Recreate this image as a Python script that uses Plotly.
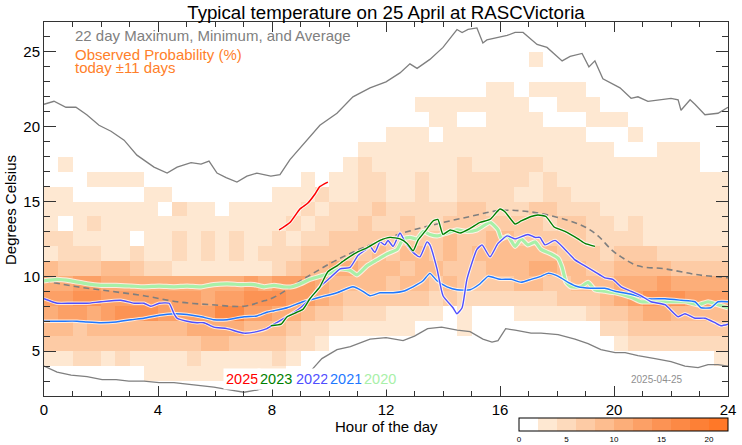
import plotly.graph_objects as go

# ---------------- data ----------------
# 22-day maximum / minimum / average (hour, deg C)
max_hours = [0, 0.35, 0.77, 1.12, 1.5, 1.93, 2.35, 2.81, 3.26, 3.86, 4.32, 4.67, 5.16, 5.51, 5.79, 6.07, 6.39, 6.77,
             7.12, 7.47, 7.96, 8.28, 8.63, 9.23, 9.68, 10.28, 10.84, 11.44, 12.0, 12.49, 12.84, 13.09, 13.54, 14.0,
             14.49, 14.67, 14.88, 15.19, 15.4, 15.54, 15.75, 16.25, 16.53, 16.81, 17.3, 17.65, 18.18, 18.46, 18.88,
             19.12, 19.33, 19.61, 20.21, 20.6, 20.84, 21.19, 22.0, 22.25, 22.35, 22.67, 22.84, 23.19, 23.65, 24]
max_temp = [21.5, 21.7, 21.3, 21.3, 20.8, 20.1, 19.7, 19.1, 18.1, 17.3, 16.9, 17.3, 17.6, 17.5, 17.7, 16.9, 16.6, 16.3,
            16.7, 16.9, 16.7, 16.8, 17.8, 19.1, 20.1, 20.9, 22.0, 22.6, 23.0, 23.6, 24.2, 23.9, 24.5, 25.3,
            26.5, 26.3, 26.5, 26.6, 25.6, 25.8, 25.9, 26.1, 26.3, 26.3, 25.5, 25.3, 24.4, 24.7, 24.9,
            24.0, 24.4, 23.2, 22.6, 21.9, 22.0, 21.7, 21.9, 21.8, 21.1, 21.8, 21.5, 20.8, 20.9, 21.3]

min_hours = [0, 0.46, 0.95, 1.51, 2.04, 2.53, 2.98, 3.51, 4.04, 4.56, 5.02, 5.51, 5.96, 6.56, 7.02, 7.47, 7.82, 8.28,
             8.74, 9.23, 9.51, 9.75, 10.28, 10.75, 11.44, 12.0, 12.6, 13.0, 13.46, 13.95, 14.5, 14.95, 15.4, 15.72,
             15.93, 16.2, 16.53, 17.09, 17.44, 18.04, 18.63, 19.09, 19.54, 20.04, 20.39, 20.84, 21.44, 22.0, 22.49,
             22.95, 23.3, 23.65, 24]
min_temp = [4.0, 3.6, 3.4, 3.3, 3.1, 3.1, 3.0, 3.0, 2.9, 2.9, 2.8, 2.7, 2.6, 2.4, 2.25, 2.4, 2.6, 2.8,
            3.0, 3.4, 4.0, 4.5, 5.1, 5.3, 5.8, 5.9, 5.7, 6.0, 6.5, 6.6, 6.4, 6.3, 5.8, 5.6,
            5.7, 6.5, 6.4, 6.2, 6.2, 6.1, 5.8, 5.5, 5.1, 4.9, 4.9, 4.7, 4.5, 4.3, 4.0,
            3.9, 4.1, 4.1, 4.0]

avg_hours = [0, 1.16, 2.35, 3.51, 4.67, 5.86, 7.02, 7.61, 8.07, 9.09, 10.28, 11.44, 12.6, 13.79, 14.95, 16.0,
             17.09, 18.28, 18.98, 19.44, 19.9, 20.25, 20.84, 21.79, 22.95, 24]
avg_temp = [9.7, 9.3, 9.0, 8.7, 8.3, 8.1, 8.0, 8.3, 8.6, 9.8, 11.1, 12.1, 12.9, 13.5, 14.0, 14.4,
            14.3, 13.8, 13.3, 12.7, 11.8, 11.3, 10.7, 10.5, 10.1, 9.9]

# yearly traces on 25 April
y2025_hours = [8.25, 8.63, 8.98, 9.26, 9.51, 9.68, 9.96]
y2025_temp = [13.1, 13.6, 14.5, 14.9, 15.5, 16.0, 16.3]

y2023_hours = [7.96, 8.32, 8.53, 8.88, 9.09, 9.33, 9.68, 9.96, 10.28, 10.56, 10.98, 11.33, 11.79, 12.14, 12.49,
               12.74, 12.95, 13.12, 13.37, 13.65, 13.82, 14.0, 14.25, 14.6, 14.95, 15.3, 15.65, 16.0, 16.18,
               16.53, 16.74, 17.09, 17.33, 17.61, 17.9, 18.28, 18.74, 18.98, 19.33]
y2023_temp = [6.7, 6.8, 7.3, 7.6, 7.8, 8.5, 9.3, 10.3, 10.7, 11.1, 11.6, 11.9, 12.4, 12.6, 12.5,
              12.2, 11.7, 12.4, 13.0, 13.7, 13.8, 12.8, 13.1, 12.9, 13.2, 13.6, 13.8, 14.5, 14.3,
              13.5, 13.7, 14.0, 14.1, 14.0, 13.3, 13.0, 12.5, 12.2, 12.0]

y2022_hours = [0, 0.46, 0.95, 1.51, 2.0, 2.7, 3.16, 3.51, 3.75, 4.04, 4.39, 4.56, 4.67, 5.02, 5.37, 5.61, 5.96,
               6.42, 7.02, 7.47, 7.82, 8.07, 8.53, 9.0, 9.33, 9.68, 10.04, 10.39, 10.74, 11.02, 11.3, 11.44,
               11.61, 11.79, 11.96, 12.07, 12.25, 12.49, 12.67, 12.95, 13.19, 13.44, 13.54, 13.79, 14.0, 14.35,
               14.49, 14.67, 14.84, 15.19, 15.37, 15.65, 15.93, 16.25, 16.53, 16.98, 17.23, 17.4, 17.58, 17.93,
               18.28, 18.63, 18.98, 19.33, 19.68, 19.96, 20.25, 20.6, 20.95, 21.3, 21.79, 22.25, 22.49, 22.84,
               23.19, 23.54, 23.75, 24]
y2022_temp = [8.5, 8.2, 8.2, 8.2, 8.3, 8.4, 8.2, 8.2, 8.0, 8.2, 8.2, 7.5, 7.2, 7.0, 6.9, 6.9, 6.6,
              6.5, 6.2, 6.3, 6.5, 6.8, 7.3, 7.9, 8.5, 9.3, 9.9, 10.5, 10.6, 11.4, 11.8, 12.0,
              11.6, 12.3, 12.1, 12.4, 12.0, 12.9, 12.3, 11.6, 11.3, 12.3, 12.1, 10.5, 8.7, 7.9,
              7.5, 7.9, 9.8, 11.8, 12.1, 11.3, 12.2, 12.7, 12.5, 12.8, 12.6, 12.6, 12.1, 12.4,
              11.8, 11.1, 10.7, 10.3, 9.9, 9.8, 9.3, 9.0, 8.7, 8.3, 8.1, 7.3, 7.5, 7.2,
              7.2, 6.9, 6.7, 6.8]

y2021_hours = [0, 0.6, 1.16, 1.51, 2.0, 2.53, 3.05, 3.51, 4.04, 4.56, 5.02, 5.51, 5.96, 6.42, 7.02, 7.47, 7.82,
               8.07, 8.53, 9.09, 9.68, 10.28, 10.84, 11.19, 11.44, 11.79, 12.25, 12.6, 12.95, 13.3, 13.54,
               13.79, 14.14, 14.49, 14.95, 15.3, 15.58, 16.0, 16.39, 16.74, 17.09, 17.44, 17.68, 17.93, 18.14,
               18.39, 18.74, 19.19, 19.68, 20.04, 20.6, 21.19, 21.79, 22.35, 22.84, 23.05, 23.4, 23.65, 24]
y2021_temp = [7.0, 7.0, 7.0, 6.95, 6.9, 6.95, 7.1, 7.2, 7.4, 7.5, 7.45, 7.3, 7.1, 7.1, 7.3, 7.35, 7.6,
              7.7, 7.9, 8.3, 8.6, 8.9, 9.3, 9.0, 8.7, 8.9, 8.9, 9.0, 9.3, 9.7, 10.2,
              9.7, 9.3, 9.1, 9.1, 9.5, 10.0, 9.8, 9.8, 9.6, 9.8, 10.0, 10.2, 10.1, 9.9,
              9.6, 9.3, 9.2, 9.2, 9.0, 8.8, 8.5, 8.5, 8.4, 8.3, 7.9, 7.9, 8.3, 8.3]

y2020_hours = [0, 0.46, 0.95, 1.51, 2.0, 2.53, 3.05, 3.51, 4.04, 4.56, 5.02, 5.51, 5.96, 6.42, 6.91, 7.37, 7.72,
               8.07, 8.4, 8.7, 9.0, 9.33, 9.68, 10.04, 10.39, 10.74, 10.98, 11.33, 11.68, 12.04, 12.39, 12.6,
               12.84, 13.09, 13.3, 13.54, 13.79, 14.14, 14.49, 14.84, 15.19, 15.65, 15.93, 16.05, 16.28, 16.53,
               16.74, 16.98, 17.23, 17.44, 17.79, 18.04, 18.18, 18.32, 18.49, 18.84, 19.09, 19.33, 19.68, 20.04,
               20.6, 20.95, 21.44, 22.0, 22.49, 22.95, 23.3, 23.65, 24]
y2020_temp = [9.7, 9.8, 9.7, 9.5, 9.4, 9.4, 9.35, 9.3, 9.35, 9.3, 9.35, 9.3, 9.45, 9.5, 9.45, 9.45, 9.3,
              9.4, 9.3, 9.3, 9.5, 9.8, 10.0, 10.2, 10.5, 10.4, 10.1, 10.7, 11.1, 11.5, 11.8, 12.5,
              12.6, 12.5, 13.0, 12.8, 12.7, 12.9, 13.1, 13.0, 13.1, 13.6, 13.1, 12.5, 12.7, 12.0,
              12.5, 12.1, 12.3, 11.8, 11.5, 11.2, 10.6, 9.6, 9.3, 9.3, 9.6, 9.1, 9.0, 8.9,
              8.6, 8.3, 8.3, 8.3, 8.3, 8.1, 8.3, 8.1, 7.9]

# observed probability (%), half-hour x 1 degC bins.
# one string per temperature bin (lowest first, 2-3 degC ... 26-27 degC),
# one character per half hour (00:00-00:30 ... 23:30-24:00);
# character k means a probability in the colour-bar class [2k, 2k+2) %.
prob_temp_low = [2, 3, 4, 5, 6, 7, 8, 9, 10, 11, 12, 13, 14, 15, 16, 17, 18, 19, 20, 21, 22, 23, 24, 25, 26]
prob_rows = [
    "000000000000000000000000000000000000000000000000",  # 2
    "000000011111111110000000000000000000000000000000",  # 3
    "112212111121111121000000000000000000000000000001",  # 4
    "333333333334433332210000000000000000000012222222",  # 5
    "443444444455554443221111110001000000000223333333",  # 6
    "566567776666886655433222111101000111112334554444",  # 7
    "667766666665667776654333333232222222333456777666",  # 8
    "556655555555556566654444344343333443344455565555",  # 9
    "433344322111111123445544434433344455443344443333",  # 10
    "122211211212121222333334344343444444333233322222",  # 11
    "221111011212121121223333333343344333332222111111",  # 12
    "101211111111111112122232232233333332332212111111",  # 13
    "111111110211011111212223222223322233222111111111",  # 14
    "110000011000000011121122112112222112211111111111",  # 15
    "000111100000000000101122112112222212111111111111",  # 16
    "010000000000000000000121111112112221111111111100",  # 17
    "000000000000000000000011111111111111111100011100",  # 18
    "000000000000000000000000111011111111110001000000",  # 19
    "000000000000000000000000000110011110001110000000",  # 20
    "000000000000000000000000001111111100111000000000",  # 21
    "000000000000000000000000000000011011110000000000",  # 22
    "000000000000000000000000000000000000000000000000",  # 23
    "000000000000000000000000000000000010000000000000",  # 24
    "000000000000000000000000000000000000000000000000",  # 25
    "000000000000000000000000000000000000000000000000",  # 26
]
class_colors = ["#FFFFFF", "#FEE8D2", "#FDDABC", "#FDCBA5", "#FDBD8F", "#FCAE79",
                "#FCA066", "#FC9354", "#FC8945", "#FD8036", "#FF7828"]
colorbar_ticks = [0, 5, 10, 15, 20]
year_labels = ["2025", "2023", "2022", "2021", "2020"]
year_colors = ["#FF0000", "#007F00", "#4F4FFF", "#1E78FF", "#A8F0A8"]
year_label_hours = [6.28, 7.47, 8.74, 9.93, 11.12]
x_ticks = [0, 4, 8, 12, 16, 20, 24]
y_ticks = [5, 10, 15, 20, 25]

# ---------------- figure ----------------
W, H = 742, 445
L, R, T, B = 44, 14, 22, 49
PW, PH = W - L - R, H - T - B

z = [[2 * int(ch) + 1 for ch in row] for row in prob_rows]
n = len(class_colors)
colorscale = []
for i, c in enumerate(class_colors):
    colorscale.append([i / n, c])
    colorscale.append([(i + 1) / n, c])

fig = go.Figure()
fig.add_trace(go.Heatmap(
    z=z, x0=0.25, dx=0.5, y0=prob_temp_low[0] + 0.5, dy=1,
    zmin=0, zmax=22, colorscale=colorscale, hoverinfo="skip",
    colorbar=dict(orientation="h", xref="paper", yref="paper",
                  x=(519 - L) / PW, xanchor="left", y=(H - B - 418) / PH, yanchor="top",
                  len=209, lenmode="pixels", thickness=13, xpad=0, ypad=0,
                  outlinewidth=1, outlinecolor="#000000",
                  tickvals=colorbar_ticks, ticks="", tickfont=dict(size=8, color="#000000"))
))

gray = "#7F7F7F"
fig.add_trace(go.Scatter(x=max_hours, y=max_temp, mode="lines", line=dict(color=gray, width=1.3), hoverinfo="skip"))
fig.add_trace(go.Scatter(x=min_hours, y=min_temp, mode="lines", line=dict(color=gray, width=1.3), hoverinfo="skip"))
fig.add_trace(go.Scatter(x=avg_hours, y=avg_temp, mode="lines", line=dict(color=gray, width=1.6, dash="6px,4px", shape="spline"), hoverinfo="skip"))

years = [
    (y2020_hours, y2020_temp, year_colors[4], 3.2),
    (y2021_hours, y2021_temp, year_colors[3], 1.4),
    (y2022_hours, y2022_temp, year_colors[2], 1.4),
    (y2023_hours, y2023_temp, year_colors[1], 1.4),
    (y2025_hours, y2025_temp, year_colors[0], 1.5),
]
for hx, ty, col, w in years:
    fig.add_trace(go.Scatter(x=hx, y=ty, mode="lines", line=dict(color="rgba(255,255,255,0.75)", width=w + 2, shape="spline", smoothing=0.5), hoverinfo="skip"))
    fig.add_trace(go.Scatter(x=hx, y=ty, mode="lines", line=dict(color=col, width=w, shape="spline", smoothing=0.5), hoverinfo="skip"))

font = "Liberation Sans, Arial, Helvetica, sans-serif"
axis_common = dict(ticks="inside", tickcolor="#333333", showline=True, linecolor="#333333", linewidth=1,
                   mirror="ticks", showgrid=False, zeroline=False, tickfont=dict(size=15))

fig.update_layout(
    width=W, height=H, autosize=False,
    margin=dict(l=L, r=R, t=T, b=B, autoexpand=False),
    paper_bgcolor="white", plot_bgcolor="white",
    showlegend=False, hovermode=False,
    font=dict(family=font, size=15, color="#000000"),
    title=dict(text="Typical temperature on 25 April at RASCVictoria", x=0.5, xref="paper",
               y=1 - 12 / H, yref="container", yanchor="middle", font=dict(size=18.7)),
    xaxis=dict(range=[0, 24], tickvals=x_ticks, ticklen=10,
               minor=dict(dtick=1, ticks="inside", ticklen=5, tickcolor="#333333"), **axis_common),
    yaxis=dict(range=[2, 27], tickvals=y_ticks, ticklen=12,
               minor=dict(dtick=1, ticks="inside", ticklen=6, tickcolor="#333333"), **axis_common),
)

# axis titles
fig.add_annotation(x=0.5, y=(H - B - 426) / PH, xref="paper", yref="paper", xanchor="center", yanchor="middle",
                   showarrow=False, text="Hour of the day", font=dict(size=15))
fig.add_annotation(x=(10 - L) / PW, y=(H - B - 210) / PH, xref="paper", yref="paper", xanchor="center",
                   yanchor="middle", showarrow=False, text="Degrees Celsius", textangle=-90, font=dict(size=15))

fig.add_annotation(x=1.0, y=26.07, xref="x", yref="y", xanchor="left", yanchor="middle", showarrow=False,
                   text="22 day Maximum, Minimum, and Average", font=dict(size=15, color="#808080"))
fig.add_annotation(x=1.0, y=24.8, xref="x", yref="y", xanchor="left", yanchor="middle", showarrow=False,
                   text="Observed Probability (%)", font=dict(size=15, color="#FF7F2A"))
fig.add_annotation(x=1.0, y=23.93, xref="x", yref="y", xanchor="left", yanchor="middle", showarrow=False,
                   text="today \u00b111 days", font=dict(size=15, color="#FF7F2A"))
for lab, col, hx in zip(year_labels, year_colors, year_label_hours):
    fig.add_annotation(x=hx, y=3.13, xref="x", yref="y", xanchor="left", yanchor="middle", showarrow=False,
                       text=lab, font=dict(size=14.5, color=col), bgcolor="white", borderpad=2)
fig.add_annotation(x=21.5, y=3.13, xref="x", yref="y", xanchor="center", yanchor="middle", showarrow=False,
                   text="2025-04-25", font=dict(size=10, color="#909090"))

fig.write_html("out.html", config={"displayModeBar": False, "staticPlot": True},
               post_script="document.body.style.margin='0px';document.body.style.padding='0px';")
